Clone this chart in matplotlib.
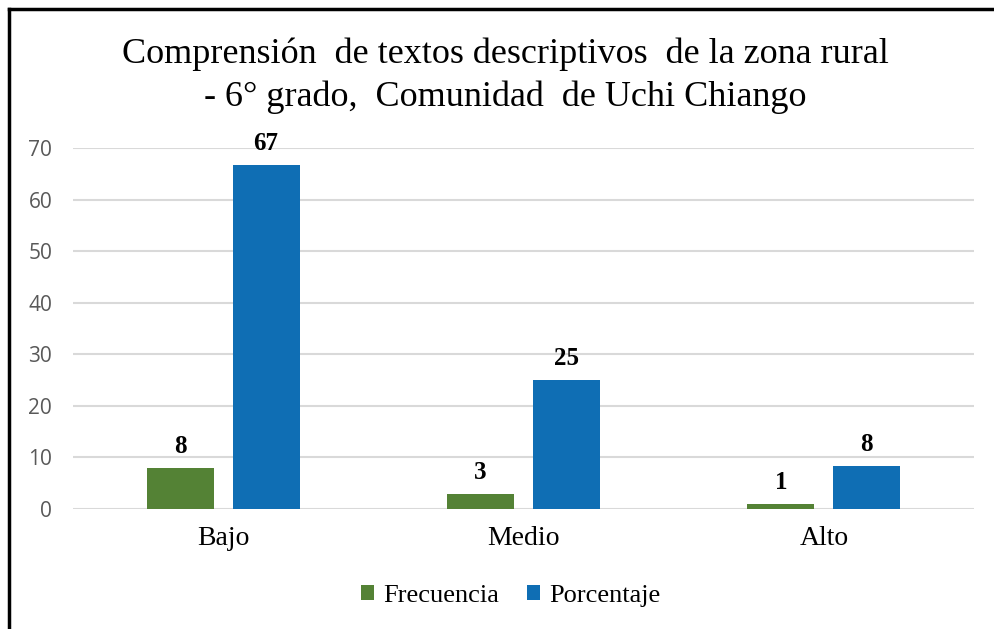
import matplotlib
matplotlib.use("Agg")
import matplotlib.pyplot as plt
import numpy as np
from matplotlib.lines import Line2D
from matplotlib.patches import Patch

categories = ["Bajo", "Medio", "Alto"]
frecuencia = [8, 3, 1]
porcentaje = [66.7, 25.0, 8.3]
series_names = ["Frecuencia", "Porcentaje"]
yticks = [0, 10, 20, 30, 40, 50, 60, 70]
title = "Comprensión  de textos descriptivos  de la zona rural\n- 6° grado,  Comunidad  de Uchi Chiango"

green = "#548235"
blue = "#0F6EB4"
serif = "Liberation Serif"

fig = plt.figure(figsize=(9.95, 6.29), dpi=100)
ax = fig.add_axes([73/995, 1-509/629, (974-73)/995, (509-148)/629])

x = np.arange(len(categories))
w = 0.223
off = 0.143
b1 = ax.bar(x - off, frecuencia, w, color=green, zorder=3)
b2 = ax.bar(x + off, porcentaje, w, color=blue, zorder=3)

for bars, vals in ((b1, frecuencia), (b2, porcentaje)):
    for r, v in zip(bars, vals):
        ax.annotate(f"{v:.0f}", (r.get_x() + r.get_width()/2, r.get_height()),
                    xytext=(0, 7), textcoords="offset points", ha="center", va="bottom",
                    fontsize=18, fontweight="bold", family=serif, color="black")

ax.set_xlim(-0.5, 2.5)
ax.set_ylim(0, 70)
ax.set_yticks(yticks)
ax.set_xticks(x)
ax.set_xticklabels(categories, family=serif, fontsize=20)
ax.tick_params(axis="x", length=0, pad=12)
ax.tick_params(axis="y", length=0, pad=15, labelsize=15, labelcolor="#595959")
for lab in ax.get_yticklabels():
    lab.set_family("Open Sans")
ax.grid(axis="y", color="#D9D9D9", linewidth=1.5, zorder=0)
for s in ax.spines.values():
    s.set_visible(False)

fig.text(505/995, 1-76/629, title, ha="center", va="center", fontsize=26,
         family=serif, linespacing=1.38)

handles = [Patch(facecolor=green), Patch(facecolor=blue)]
fig.legend(handles, series_names, loc="center", bbox_to_anchor=(511/995, 1-596/629),
           ncol=2, frameon=False, prop={"family": serif, "size": 19},
           handlelength=0.5, handleheight=0.5, handletextpad=0.35, columnspacing=1.05)

# outer frame (left and top visible)
fig.add_artist(Line2D([9/995, 9/995], [0, 1-9/629], transform=fig.transFigure, color="black", linewidth=2.5))
fig.add_artist(Line2D([9/995, 1], [1-9/629, 1-9/629], transform=fig.transFigure, color="black", linewidth=2.5))

fig.savefig("out.png", dpi=100)
